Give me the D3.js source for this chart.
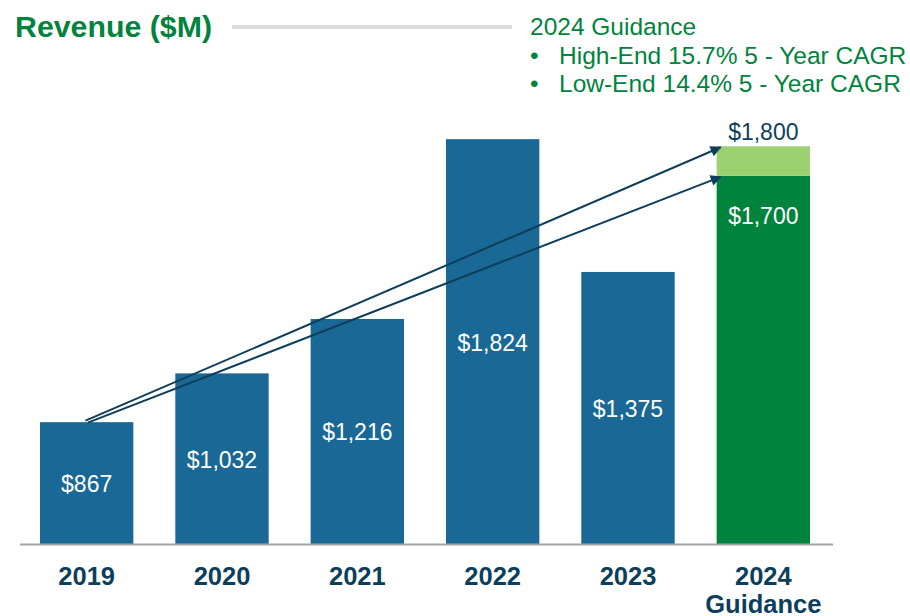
<!DOCTYPE html>
<html>
<head>
<meta charset="utf-8">
<script src="https://cdn.jsdelivr.net/npm/d3@7"></script>
<style>
  body { margin: 0; background: #fff; }
  svg { font-family: "Liberation Sans", Arial, sans-serif; }
</style>
</head>
<body>
<script>
var years = ["2019", "2020", "2021", "2022", "2023", "2024"];
var yearLabels = [["2019"], ["2020"], ["2021"], ["2022"], ["2023"], ["2024", "Guidance"]];
var revenue = [867, 1032, 1216, 1824, 1375, 1700];
var guidanceHigh = 1800;
var guidanceLines = ["2024 Guidance", "High-End 15.7% 5 - Year CAGR", "Low-End 14.4% 5 - Year CAGR"];

var width = 910, height = 616;
var blue = "#1a6896", navy = "#0d3f5c", green = "#00843d", lightGreen = "#9dd070";

var svg = d3.select("body").append("svg")
    .attr("width", width)
    .attr("height", height);

var x = d3.scaleBand()
    .domain(years)
    .range([19, 831])
    .paddingInner(0.31)
    .paddingOuter(0.155);

// truncated value axis, as in the source slide
var y = d3.scaleLinear()
    .domain([455, 1850])
    .range([544, 131.5]);

svg.append("defs").append("marker")
    .attr("id", "arrow")
    .attr("viewBox", "0 0 10 10")
    .attr("refX", 9)
    .attr("refY", 5)
    .attr("markerWidth", 13)
    .attr("markerHeight", 11)
    .attr("markerUnits", "userSpaceOnUse")
    .attr("orient", "auto")
    .append("path")
    .attr("d", "M0,0 L10,5 L0,10 z")
    .attr("fill", navy);

// title
svg.append("text")
    .attr("x", 15)
    .attr("y", 37)
    .attr("fill", green)
    .attr("font-size", 30.3)
    .attr("font-weight", "bold")
    .text("Revenue ($M)");

svg.append("line")
    .attr("x1", 232).attr("x2", 512)
    .attr("y1", 27).attr("y2", 27)
    .attr("stroke", "#dcdcdc")
    .attr("stroke-width", 4);

var guide = svg.append("g").attr("fill", green).attr("font-size", 24.5);
guidanceLines.forEach(function(t, i) {
    var yy = 35 + i * 28.5;
    if (i === 0) {
        guide.append("text").attr("x", 530).attr("y", yy).text(t);
    } else {
        guide.append("text").attr("x", 530).attr("y", yy).text("\u2022");
        guide.append("text").attr("x", 559).attr("y", yy).text(t);
    }
});

// bars
svg.selectAll(".bar")
    .data(revenue)
    .enter().append("rect")
    .attr("class", "bar")
    .attr("x", function(d, i) { return x(years[i]); })
    .attr("y", function(d) { return y(d); })
    .attr("width", x.bandwidth())
    .attr("height", function(d) { return y.range()[0] - y(d); })
    .attr("fill", function(d, i) { return i === 5 ? green : blue; });

// guidance high-end segment
svg.append("rect")
    .attr("x", x("2024"))
    .attr("y", y(guidanceHigh))
    .attr("width", x.bandwidth())
    .attr("height", y(revenue[5]) - y(guidanceHigh))
    .attr("fill", lightGreen);

// axis baseline
svg.append("line")
    .attr("x1", 20).attr("x2", 833)
    .attr("y1", 544.5).attr("y2", 544.5)
    .attr("stroke", "#a0a4a8")
    .attr("stroke-width", 2);

// value labels
svg.selectAll(".val")
    .data(revenue)
    .enter().append("text")
    .attr("class", "val")
    .attr("x", function(d, i) { return x(years[i]) + x.bandwidth() / 2; })
    .attr("y", function(d, i) {
        if (i === 5) return y(d) + 48;
        return (y(d) + y.range()[0]) / 2 + 9;
    })
    .attr("text-anchor", "middle")
    .attr("fill", "#fff")
    .attr("font-size", 23)
    .text(function(d) { return "$" + d3.format(",")(d); });

svg.append("text")
    .attr("x", x("2024") + x.bandwidth() / 2)
    .attr("y", y(guidanceHigh) - 6)
    .attr("text-anchor", "middle")
    .attr("fill", navy)
    .attr("font-size", 23)
    .text("$" + d3.format(",")(guidanceHigh));

// CAGR arrows
var x0 = x("2019") + x.bandwidth() / 2, y0 = y(revenue[0]);
[[guidanceHigh, -2], [revenue[5], 2]].forEach(function(a) {
    svg.append("line")
        .attr("x1", x0 + a[1] * 0.6).attr("y1", y0 - 0.5 + a[1] * 0.5)
        .attr("x2", x("2024") + 4).attr("y2", y(a[0]) + 1)
        .attr("stroke", navy)
        .attr("stroke-width", 2)
        .attr("marker-end", "url(#arrow)");
});

// category labels
svg.selectAll(".cat")
    .data(yearLabels)
    .enter().append("text")
    .attr("class", "cat")
    .attr("x", function(d, i) { return x(years[i]) + x.bandwidth() / 2; })
    .attr("y", 585)
    .attr("text-anchor", "middle")
    .attr("fill", navy)
    .attr("font-size", 25.5)
    .attr("font-weight", "bold")
    .each(function(d) {
        var t = d3.select(this);
        d.forEach(function(line, j) {
            t.append("tspan")
                .attr("x", t.attr("x"))
                .attr("dy", j === 0 ? 0 : 27.5)
                .text(line);
        });
    });
</script>
</body>
</html>
